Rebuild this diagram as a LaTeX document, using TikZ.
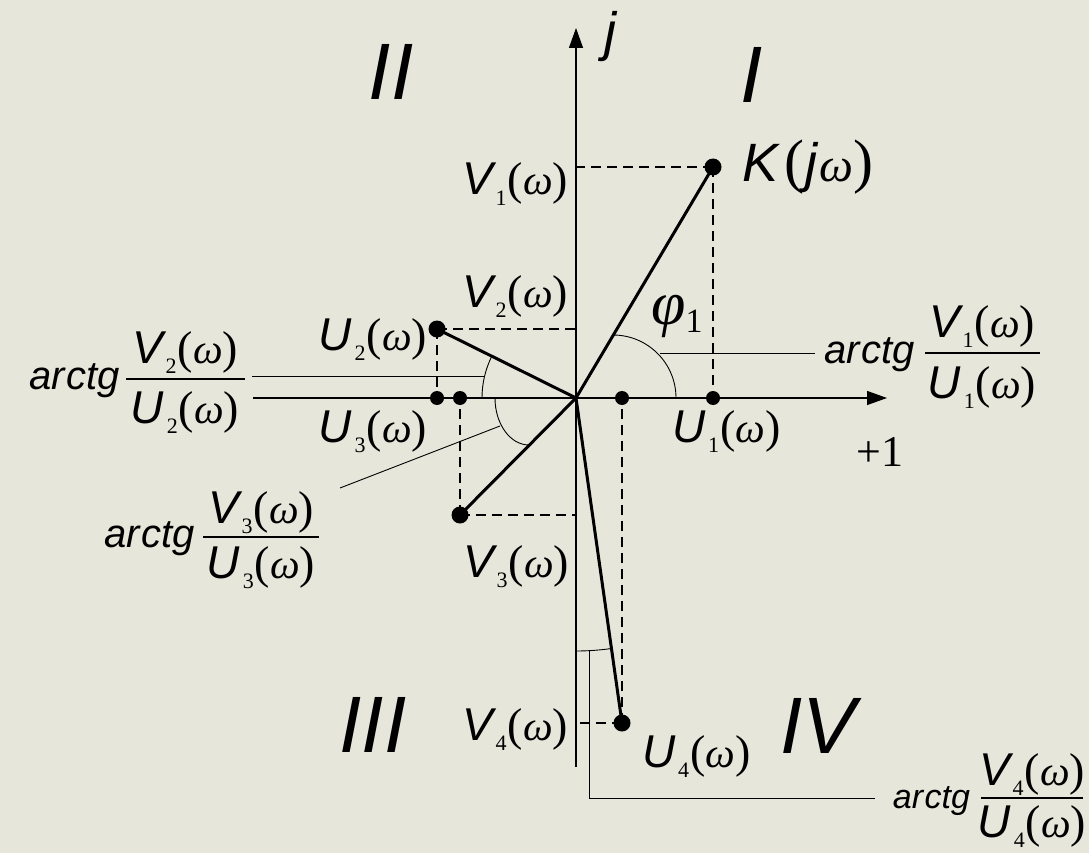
\documentclass[tikz,border=0pt]{standalone}
\usepackage{fontspec}
\setmainfont{Liberation Serif}
\newfontfamily\arsf{Liberation Sans}
\usetikzlibrary{arrows.meta}
\definecolor{bg}{RGB}{230,231,218}

\newcommand{\LetF}{\arsf\itshape\fontsize{46}{50}\selectfont}
\newcommand{\SubF}{\rmfamily\upshape\fontsize{22}{24}\selectfont}
\newcommand{\ParF}{\rmfamily\upshape\fontsize{46}{50}\selectfont}
\newcommand{\OmF}{\rmfamily\itshape\fontsize{42}{46}\selectfont}
\newcommand{\fw}[2]{{\LetF #1}\kern3pt\raisebox{-10pt}{\SubF #2}\kern1pt{\ParF(}{\OmF ω}{\ParF)}}
\newcommand{\atg}[1][40]{{\arsf\itshape\fontsize{#1}{#1}\selectfont ar\kern1.5pt ctg}}
\newcommand{\RomF}{\arsf\itshape\fontsize{80}{80}\selectfont}

\begin{document}
\begin{tikzpicture}[x=1pt,y=-1pt,
  txt/.style={inner sep=0pt, outer sep=0pt},
  vec/.style={line width=3pt},
  axis/.style={line width=1.3pt, -{Triangle[length=20pt,width=14pt]}},
  proj/.style={line width=1.6pt, dash pattern=on 10pt off 6pt},
  lead/.style={line width=0.9pt},
  dotn/.style={circle, fill=black, inner sep=0pt, minimum size=17pt},
  axdot/.style={circle, fill=black, inner sep=0pt, minimum size=14pt},
  fbar/.style={line width=1.5pt}]
\fill[bg] (0,0) rectangle (1089,853);
\useasboundingbox (0,0) rectangle (1089,853);

% axes
\coordinate (O) at (576,398);
\coordinate (xl) at (253,398);
\coordinate (xr) at (887,398);
\coordinate (yb) at (576,767);
\coordinate (yt) at (576,28);
\draw[axis] (xl) -- (xr);
\draw[axis] (yb) -- (yt);

% projection coordinates on the imaginary axis
\coordinate (V1p) at (576,167);
\coordinate (V2p) at (576,329);
\coordinate (V3p) at (576,515);
\coordinate (V4p) at (576,723);

% points
\node[dotn] (P1) at (713,167) {};
\node[dotn] (P2) at (437,329) {};
\node[dotn] (P3) at (460,515) {};
\node[dotn] (P4) at (622,723) {};
\node[axdot] (U1p) at (713,398) {};
\node[axdot] (U2p) at (437,398) {};
\node[axdot] (U3p) at (460,398) {};
\node[axdot] (U4p) at (622,398) {};

% dashed projections
\draw[proj] (P1.center) -- (V1p);
\draw[proj] (P1.center) -- (U1p.center);
\draw[proj] (P2.center) -- (V2p);
\draw[proj] (P2.center) -- (U2p.center);
\draw[proj] (P3.center) -- (V3p);
\draw[proj] (P3.center) -- (U3p.center);
\draw[proj] (P4.center) -- (V4p);
\draw[proj] (P4.center) -- (U4p.center);

% vectors
\draw[vec] (O) -- (P1.center);
\draw[vec] (O) -- (P2.center);
\draw[vec] (O) -- (P3.center);
\draw[vec] (O) -- (P4.center);

% angle arcs
\draw[lead] (613,335) arc[start angle=90, end angle=0, radius=63pt];
\draw[lead] (O) ++(154:94pt) arc[start angle=154, end angle=180, radius=94pt];
\draw[lead] (495,398) arc[start angle=180, end angle=270, x radius=34pt, y radius=47pt];
\draw[lead] (O) ++(270:253pt) arc[start angle=270, end angle=278, radius=253pt];

% leader lines
\coordinate (L1a) at (660,353);
\coordinate (L1b) at (815,353);
\coordinate (L2a) at (484,376);
\coordinate (L2b) at (252,376);
\coordinate (L3a) at (500,426);
\coordinate (L3b) at (340,488);
\coordinate (L4a) at (589,651);
\coordinate (L4c) at (589,798);
\coordinate (L4b) at (875,798);
\draw[lead] (L1a) -- (L1b);
\draw[lead] (L2a) -- (L2b);
\draw[lead] (L3a) -- (L3b);
\draw[lead] (L4a) -- (L4c) -- (L4b);

% quadrant numerals and axis labels
\node[txt] (q1) at (752,75) {\RomF I};
\node[txt] (q2) at (391,72) {\RomF II};
\node[txt] (q3) at (373,725) {\RomF III};
\node[txt] (q4) at (818,726) {\RomF IV};
\node[txt] (jl) at (610,37) {\arsf\itshape\fontsize{54}{54}\selectfont j};
\node[txt] (one) at (880,452) {\fontsize{44}{46}\selectfont +1};
\node[txt] (phi) at (677,316) {{\rmfamily\itshape\fontsize{62}{64}\selectfont φ}\raisebox{-8pt}{\rmfamily\fontsize{34}{36}\selectfont 1}};

% point labels
\node[txt, anchor=base west] (Kl) at (742,182) {{\arsf\itshape\fontsize{54}{56}\selectfont K}\kern6pt{\rmfamily\fontsize{60}{62}\selectfont(}\kern1pt{\arsf\itshape\fontsize{54}{56}\selectfont j}\kern2pt{\rmfamily\itshape\fontsize{48}{50}\selectfont ω}\kern1pt{\rmfamily\fontsize{60}{62}\selectfont)}};
\node[txt, anchor=base east] (V1l) at (568,195) {\fw{V}{1}};
\node[txt, anchor=base east] (V2l) at (568,307) {\fw{V}{2}};
\node[txt, anchor=base west] (V3l) at (463,577) {\fw{V}{3}};
\node[txt, anchor=base east] (V4l) at (568,740) {\fw{V}{4}};
\node[txt, anchor=base west] (U1l) at (672,442) {\fw{U}{1}};
\node[txt, anchor=base east] (U2l) at (427,350) {\fw{U}{2}};
\node[txt, anchor=base east] (U3l) at (427,442) {\fw{U}{3}};
\node[txt, anchor=base west] (U4l) at (642,767) {\fw{U}{4}};

% arctg fractions
\node[txt, anchor=base east] (A1) at (915,363) {\atg};
\node[txt, anchor=base] (N1) at (982,337) {\fw{V}{1}};
\node[txt, anchor=base] (D1) at (982,398) {\fw{U}{1}};
\draw[fbar] (925,353) -- (1040,353);

\node[txt, anchor=base east] (A2) at (120,389) {\atg};
\node[txt, anchor=base] (N2) at (185,363) {\fw{V}{2}};
\node[txt, anchor=base] (D2) at (185,423) {\fw{U}{2}};
\draw[fbar] (126,379) -- (245,379);

\node[txt, anchor=base east] (A3) at (195,547) {\atg};
\node[txt, anchor=base] (N3) at (261,523) {\fw{V}{3}};
\node[txt, anchor=base] (D3) at (261,578) {\fw{U}{3}};
\draw[fbar] (203,537) -- (319,537);

\node[txt, anchor=base east] (A4) at (970,808) {\atg[34]};
\node[txt, anchor=base] (N4) at (1032,785) {\fw{V}{4}};
\node[txt, anchor=base] (D4) at (1032,837) {\fw{U}{4}};
\draw[fbar] (981,798) -- (1083,798);
\end{tikzpicture}
\end{document}
